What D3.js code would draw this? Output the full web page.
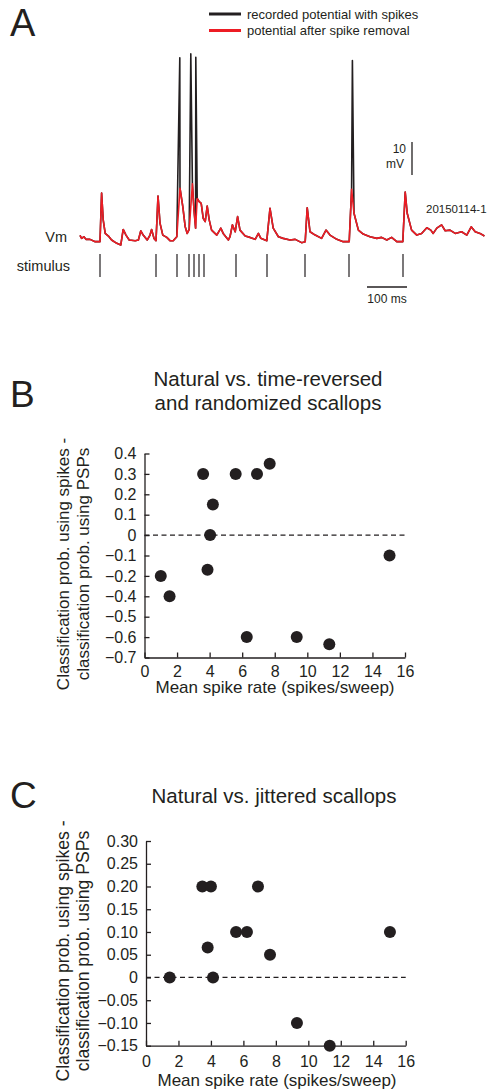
<!DOCTYPE html>
<html>
<head>
<meta charset="utf-8">
<script src="https://cdn.jsdelivr.net/npm/d3@7"></script>
<style>
  body { margin: 0; background: #fff; }
  text { font-family: Arial, "Liberation Sans", Helvetica, sans-serif; fill: #231f20; }
</style>
</head>
<body>
<svg width="488" height="1092"></svg>
<script>
// ---- panel A: membrane potential, [ms, mV above rest] ----
let redTrace = [
  [0, 2.0], [4, 1.1], [10, 1.6], [15, 0.8], [25, 0.8], [38, 0.1], [50, 0.1], [54, 14.8], [58, 6.7],
  [63, 2.6], [71, 1.8], [79, 0.6], [92, -0.4], [102, -0.9], [108, 3.8], [115, 2.1], [123, 0.6],
  [138, 0.4], [146, 0.6], [152, 3.4], [158, 2.1], [168, 0.6], [175, 2.1], [179, 3.8], [185, 1.1],
  [190, 0.4], [195, 13.9], [200, 5.7], [207, 2.1], [217, 1.4], [225, 0.4], [233, 0.4], [242, 1.6],
  [250, 16.3], [257, 10.7], [263, 4.6], [268, 2.6], [273, 3.8], [281, 17.6], [285, 9.7], [289, 4.2],
  [293, 13.2], [298, 12.2], [303, 11.7], [308, 7.2], [313, 6.2], [318, 10.9], [323, 6.7], [329, 3.6],
  [342, 2.1], [352, 4.2], [358, 2.6], [371, 0.6], [375, 1.6], [381, 5.2], [388, 3.1], [394, 7.7],
  [400, 3.6], [413, 1.8], [425, 1.4], [438, 0.8], [446, 2.6], [452, 1.1], [467, 0.4], [475, 10.2],
  [483, 4.2], [496, 1.6], [508, 1.1], [525, 0.6], [538, 0.8], [554, -0.2], [563, 0.1], [568, 10.4],
  [575, 3.1], [588, 2.1], [604, 1.1], [615, 3.6], [625, 2.1], [642, 0.8], [658, 0.1], [673, 0.1],
  [679, 16.0], [685, 8.7], [696, 3.6], [708, 2.4], [725, 1.6], [742, 1.1], [754, 1.4], [767, 0.6],
  [779, 1.4], [792, 0.1], [807, 0.1], [813, 15.1], [818, 8.7], [829, 3.6], [842, 2.1], [854, 2.6],
  [867, 4.3], [877, 3.6], [883, 2.6], [892, 4.2], [904, 5.2], [913, 3.4], [925, 3.6], [938, 2.6],
  [954, 3.1], [967, 2.1], [978, 4.6], [988, 3.1], [1000, 2.6], [1011, 1.8]
];
// spike peaks that were removed from the recorded trace
let spikePeaks = [[249.5, 55.8], [277, 57], [289.5, 56], [681, 55]];
let stimTimes = [50, 190, 242.5, 272.5, 285, 297.5, 310, 390, 467.5, 562.5, 672.5, 807.5];

// ---- panel B ----
let rateB = [1.0, 1.54, 3.6, 3.87, 4.03, 4.2, 5.6, 6.28, 6.91, 7.69, 9.35, 11.35, 15.05];
let diffB = [-0.2, -0.4, 0.3, -0.17, 0, 0.15, 0.3, -0.6, 0.3, 0.35, -0.6, -0.635, -0.1];
let bTickValues = [0.4, 0.3, 0.2, 0.1, 0, -0.1, -0.2, -0.4, -0.5, -0.6, -0.7];
let bTickLabels = ["0.4", "0.3", "0.2", "0.1", "0", "−0.1", "−0.2", "−0.4", "−0.5", "−0.6", "−0.7"];

// ---- panel C ----
let rateC = [1.46, 3.47, 4.0, 3.8, 4.13, 5.55, 6.22, 6.9, 7.64, 9.3, 11.32, 15.03];
let diffC = [0, 0.2, 0.2, 0.066, 0, 0.1, 0.1, 0.2, 0.05, -0.1, -0.15, 0.1];
let cTickValues = [0.3, 0.25, 0.2, 0.15, 0.1, 0.05, 0, -0.05, -0.1, -0.15];
let cTickLabels = ["0.30", "0.25", "0.20", "0.15", "0.10", "0.05", "0", "−0.05", "−0.10", "−0.15"];

let rateTicks = [0, 2, 4, 6, 8, 10, 12, 14, 16];

let ink = "#231f20";
let red = "#ed1c24";
let svg = d3.select("svg");

// ======== A ========
let xA = d3.scaleLinear().domain([0, 1010]).range([80, 484]);
let yA = d3.scaleLinear().domain([0, 60]).range([242, 44]);
let lineA = d3.line().x(d => xA(d[0])).y(d => yA(d[1]));

let blackTrace = redTrace.concat(spikePeaks).sort((a, b) => a[0] - b[0]);

svg.append("text").attr("x", 10).attr("y", 36).attr("font-size", 38).text("A");

// legend
svg.append("line").attr("x1", 209).attr("x2", 241).attr("y1", 14).attr("y2", 14)
    .attr("stroke", ink).attr("stroke-width", 3);
svg.append("text").attr("x", 247).attr("y", 18.5).attr("font-size", 13).text("recorded potential with spikes");
svg.append("line").attr("x1", 209).attr("x2", 241).attr("y1", 30.5).attr("y2", 30.5)
    .attr("stroke", red).attr("stroke-width", 3);
svg.append("text").attr("x", 247).attr("y", 34.5).attr("font-size", 13).text("potential after spike removal");

svg.append("path").datum(blackTrace).attr("d", lineA)
    .attr("fill", "none").attr("stroke", ink).attr("stroke-width", 1.6).attr("stroke-linejoin", "round");
svg.append("path").datum(redTrace).attr("d", lineA)
    .attr("fill", "none").attr("stroke", red).attr("stroke-width", 1.6).attr("stroke-linejoin", "round");

svg.append("text").attr("x", 67).attr("y", 242).attr("font-size", 14.5).attr("text-anchor", "end").text("Vm");
svg.append("text").attr("x", 70).attr("y", 271).attr("font-size", 14.5).attr("text-anchor", "end").text("stimulus");

svg.selectAll(".stim").data(stimTimes).enter().append("line")
    .attr("x1", d => xA(d)).attr("x2", d => xA(d))
    .attr("y1", 254).attr("y2", 277)
    .attr("stroke", ink).attr("stroke-width", 1.2);

// scale bars
svg.append("line").attr("x1", xA(830)).attr("x2", xA(830)).attr("y1", yA(30.3)).attr("y2", yA(20.3))
    .attr("stroke", ink).attr("stroke-width", 1.3);
svg.append("text").attr("x", 406).attr("y", 153).attr("font-size", 12).attr("text-anchor", "end").text("10");
svg.append("text").attr("x", 404).attr("y", 168).attr("font-size", 12).attr("text-anchor", "end").text("mV");
svg.append("line").attr("x1", xA(717.5)).attr("x2", xA(817.5)).attr("y1", 287).attr("y2", 287)
    .attr("stroke", ink).attr("stroke-width", 1.3);
svg.append("text").attr("x", xA(767.5)).attr("y", 303).attr("font-size", 12).attr("text-anchor", "middle").text("100 ms");
svg.append("text").attr("x", 426).attr("y", 213).attr("font-size", 11.5).text("20150114-1");

// ======== B and C ========
function scatterPanel(opt) {
    let g = svg.append("g");
    let x = d3.scaleLinear().domain([0, 16]).range([opt.left, opt.right]);
    let y = opt.y;

    g.append("text").attr("x", 10).attr("y", opt.letterY).attr("font-size", 37).text(opt.letter);

    opt.title.forEach((t, i) => {
        g.append("text").attr("x", opt.titleX).attr("y", opt.titleY + i * 24)
            .attr("font-size", 20.5).attr("text-anchor", "middle").text(t);
    });

    // zero line
    g.append("line").attr("x1", x(0)).attr("x2", x(16)).attr("y1", y(0)).attr("y2", y(0))
        .attr("stroke", ink).attr("stroke-width", 1.2).attr("stroke-dasharray", "5,3.5");

    let yAxis = d3.axisLeft(y).tickValues(opt.tickValues)
        .tickFormat((d, i) => opt.tickLabels[i])
        .tickSizeInner(-5).tickSizeOuter(0).tickPadding(8);
    let ya = g.append("g").attr("transform", "translate(" + opt.left + ",0)").call(yAxis);

    let xAxis = d3.axisBottom(x).tickValues(rateTicks)
        .tickSizeInner(-5).tickSizeOuter(0).tickPadding(opt.xPad);
    let xa = g.append("g").attr("transform", "translate(0," + opt.bottom + ")").call(xAxis);

    [ya, xa].forEach(a => {
        a.selectAll("path, line").attr("stroke", ink).attr("stroke-width", 1.3);
        a.selectAll("text").attr("font-size", 16).attr("fill", ink)
            .attr("font-family", "Arial, 'Liberation Sans', Helvetica, sans-serif");
    });

    g.selectAll(".dot").data(opt.rate).enter().append("circle")
        .attr("cx", d => x(d)).attr("cy", (d, i) => y(opt.diff[i]))
        .attr("r", 6).attr("fill", ink);

    g.append("text").attr("x", opt.xLabelX).attr("y", opt.xLabelY).attr("font-size", 17)
        .attr("text-anchor", "middle").text("Mean spike rate (spikes/sweep)");

    ["Classification prob. using spikes -", "classification prob. using PSPs"].forEach((t, i) => {
        g.append("text")
            .attr("transform", "translate(" + (69 + i * 20) + "," + opt.yLabelY + ") rotate(-90)")
            .attr("font-size", opt.yLabelSize).attr("text-anchor", "middle").text(t);
    });
}

let stepB = (657.5 - 453.5) / 10;
scatterPanel({
    letter: "B", letterY: 407,
    title: ["Natural vs. time-reversed", "and randomized scallops"], titleX: 268, titleY: 386,
    left: 144.5, right: 405, bottom: 657.5, xPad: 8,
    y: d3.scaleLinear().domain([-0.7, -0.4, -0.2, 0.4])
        .range([657.5, 657.5 - 3 * stepB, 657.5 - 4 * stepB, 453.5]),
    tickValues: bTickValues, tickLabels: bTickLabels,
    rate: rateB, diff: diffB,
    xLabelX: 275, xLabelY: 693, yLabelY: 564, yLabelSize: 17
});

scatterPanel({
    letter: "C", letterY: 808,
    title: ["Natural vs. jittered scallops"], titleX: 274, titleY: 803,
    left: 146, right: 405.7, bottom: 1045.7, xPad: 9.5,
    y: d3.scaleLinear().domain([-0.15, 0.3]).range([1045.7, 841]),
    tickValues: cTickValues, tickLabels: cTickLabels,
    rate: rateC, diff: diffC,
    xLabelX: 277, xLabelY: 1085.5, yLabelY: 951, yLabelSize: 17.6
});
</script>
</body>
</html>
